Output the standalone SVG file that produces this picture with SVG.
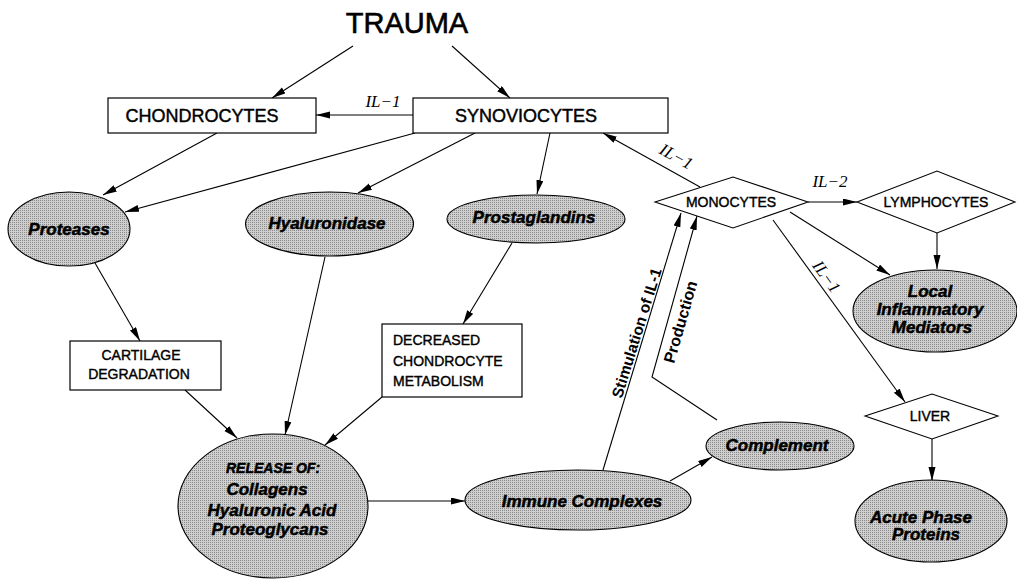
<svg xmlns="http://www.w3.org/2000/svg" width="1017" height="579" viewBox="0 0 1017 579">
<style>
.box{fill:#fff;stroke:#000;stroke-width:1.2}
.ell{fill:url(#dots);stroke:#000;stroke-width:1.1}
.dia{fill:#fff;stroke:#000;stroke-width:1.1}
.edge{fill:none;stroke:#000;stroke-width:1.1;marker-end:url(#ah)}
.bt{font-family:"Liberation Sans",Arial,sans-serif;font-size:18px;fill:#000;stroke:#000;stroke-width:0.45;text-anchor:middle}
.st{font-family:"Liberation Sans",Arial,sans-serif;font-size:14px;fill:#000;stroke:#000;stroke-width:0.4;text-anchor:middle}
.sl{text-anchor:start}
.et{font-family:"Liberation Sans",Arial,sans-serif;font-size:17px;font-weight:bold;font-style:italic;fill:#000;stroke:#000;stroke-width:0.5;text-anchor:middle}
.il{font-family:"Liberation Serif","Times New Roman",serif;font-size:17px;font-style:italic;fill:#000;text-anchor:middle}
.rl{font-family:"Liberation Sans",Arial,sans-serif;font-weight:bold;fill:#000;text-anchor:middle}
</style>
<defs>
<pattern id="dots" width="2" height="2" patternUnits="userSpaceOnUse">
<rect width="2" height="2" fill="#cfcfcf"/>
<rect width="1" height="1" fill="#8a8a8a"/>
</pattern>
<marker id="ah" markerUnits="userSpaceOnUse" markerWidth="14" markerHeight="8" refX="14" refY="3.5" orient="auto">
<path d="M0,0 L14,3.5 L0,7 z" fill="#000"/>
</marker>
</defs>
<rect width="1017" height="579" fill="#fff"/>

<g id="connectors">
<path class="edge" d="M353,46 L272,98"/>
<path class="edge" d="M452,46 L510,98"/>
<path class="edge" d="M413,115 L316,115"/>
<path class="edge" d="M217,133 L103,195"/>
<path class="edge" d="M415,133 L125,212"/>
<path class="edge" d="M475,133 L358,193"/>
<path class="edge" d="M550,133 L537,194"/>
<path class="edge" d="M700,187 L603,133"/>
<path class="edge" d="M808,202 L857,202"/>
<path class="edge" d="M937,233 L937,269"/>
<path class="edge" d="M790,212 L890,275"/>
<path class="edge" d="M773,220 L905,402"/>
<path class="edge" d="M932,439 L932,481"/>
<path class="edge" d="M95,263 L140,341"/>
<path class="edge" d="M325,257 L285,435"/>
<path class="edge" d="M512,243 L463,324"/>
<path class="edge" d="M185,390 L237,438"/>
<path class="edge" d="M382,397 L325,445"/>
<path class="edge" d="M368,501 L465,501"/>
<path class="edge" d="M670,481 L712,457"/>
<path class="edge" d="M603,470 L681,213"/>
<path class="edge" d="M717,420 L652,377 L697,216"/>
<text class="il" x="383" y="107">IL−1</text>
<text class="il" x="830" y="187">IL−2</text>
<text class="il" transform="translate(676,157) rotate(28.6)" y="5">IL−1</text>
<text class="il" transform="translate(826,277) rotate(54)" y="5">IL−1</text>
<text class="rl" font-size="15.5" transform="translate(637,333) rotate(-72.7)" y="5">Stimulation of IL-1</text>
<text class="rl" font-size="16" transform="translate(681,322) rotate(-73.9)" y="5">Production</text>
</g>

<g id="trauma"><text x="407" y="33" font-family="Liberation Sans,Arial,sans-serif" font-size="29" stroke="#000" stroke-width="0.6" text-anchor="middle">TRAUMA</text></g>

<g id="chondrocytes"><rect class="box" x="108" y="98" width="208" height="35"/><text class="bt" x="202" y="122">CHONDROCYTES</text></g>
<g id="synoviocytes"><rect class="box" x="413" y="98" width="255" height="35"/><text class="bt" x="526" y="122">SYNOVIOCYTES</text></g>

<g id="proteases"><ellipse class="ell" cx="69" cy="229" rx="61" ry="37"/><text class="et" x="69" y="235">Proteases</text></g>
<g id="hyaluronidase"><ellipse class="ell" cx="329.5" cy="224" rx="84" ry="32"/><text class="et" x="327" y="229">Hyaluronidase</text></g>
<g id="prostaglandins"><ellipse class="ell" cx="536" cy="219" rx="89" ry="24"/><text class="et" x="534" y="223">Prostaglandins</text></g>

<g id="monocytes"><polygon class="dia" points="655,202 733,177 808,202 733,228"/><text class="st" x="731" y="207">MONOCYTES</text></g>
<g id="lymphocytes"><polygon class="dia" points="857,202 937,171 1015,202 937,233"/><text class="st" x="936" y="207">LYMPHOCYTES</text></g>
<g id="local"><ellipse class="ell" cx="935" cy="311" rx="82" ry="41"/><text class="et" x="930" y="297">Local</text><text class="et" x="930" y="315">Inflammatory</text><text class="et" x="932" y="333">Mediators</text></g>
<g id="liver"><polygon class="dia" points="865,416 932,394 998,416 932,439"/><text class="st" x="930" y="421">LIVER</text></g>
<g id="acute"><ellipse class="ell" cx="931" cy="521" rx="76" ry="41"/><text class="et" x="921" y="523">Acute Phase</text><text class="et" x="926" y="540">Proteins</text></g>

<g id="cartilage"><rect class="box" x="70" y="341" width="151" height="49"/><text class="st" x="141" y="360">CARTILAGE</text><text class="st" x="139" y="379">DEGRADATION</text></g>
<g id="decreased"><rect class="box" x="382" y="324" width="140" height="73"/><text class="st sl" x="393" y="345">DECREASED</text><text class="st sl" x="393" y="366">CHONDROCYTE</text><text class="st sl" x="393" y="386">METABOLISM</text></g>

<g id="release"><ellipse class="ell" cx="273" cy="506" rx="95" ry="72"/><text class="et" x="273" y="473" style="font-size:14px">RELEASE OF:</text><text class="et" x="267" y="495">Collagens</text><text class="et" x="272" y="516">Hyaluronic Acid</text><text class="et" x="270" y="535">Proteoglycans</text></g>
<g id="immune"><ellipse class="ell" cx="578" cy="500" rx="113" ry="30"/><text class="et" x="582" y="507">Immune Complexes</text></g>
<g id="complement"><ellipse class="ell" cx="780" cy="446" rx="74" ry="24"/><text class="et" x="777" y="451">Complement</text></g>
</svg>
